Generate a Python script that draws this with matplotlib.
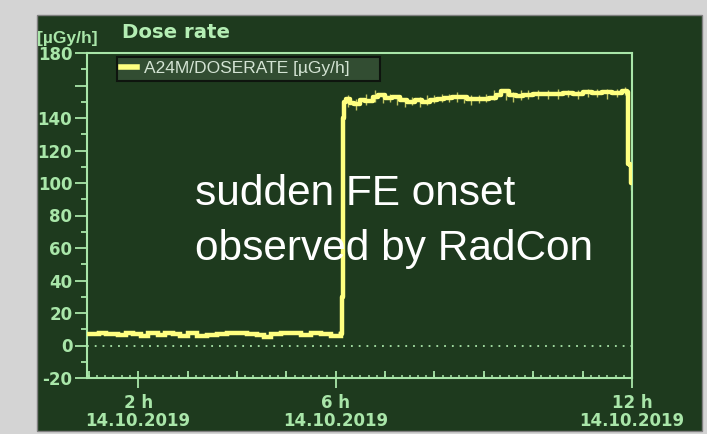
import matplotlib
matplotlib.use("Agg")
import matplotlib.pyplot as plt
from matplotlib.patches import Rectangle
from matplotlib.ticker import MultipleLocator, FixedLocator

# ---------------- data ----------------
base_t = [0.97, 1.2, 1.35, 1.6, 1.75, 1.9, 2.05, 2.2, 2.4, 2.55, 2.7, 2.85, 3.0, 3.2,
          3.4, 3.6, 3.8, 4.0, 4.2, 4.4, 4.55, 4.7, 4.9, 5.1, 5.3, 5.5, 5.7, 5.9, 6.1]
base_v = [7, 8, 7, 6.5, 8, 7, 6, 7.5, 6.5, 8, 7, 6, 7.5, 6,
          6.5, 7, 7.5, 8, 7, 6.5, 5, 7, 8, 7.5, 6.5, 8, 7, 6, 7]

high_t = [6.12, 6.14, 6.16, 6.2, 6.3, 6.38, 6.5, 6.6, 6.75, 6.85, 7.0, 7.15, 7.3, 7.45,
          7.6, 7.75, 7.9, 8.05, 8.2, 8.35, 8.5, 8.65, 8.8, 8.95, 9.1, 9.25, 9.35, 9.5,
          9.65, 9.8, 10.0, 10.2, 10.4, 10.6, 10.8, 11.0, 11.2, 11.4, 11.6, 11.8, 11.9,
          11.92, 11.96, 11.98, 12.0]
high_v = [30, 140, 150, 152, 149, 148.5, 151, 150.5, 153, 154, 152.5, 153, 151, 150,
          151, 150, 151, 152, 152.5, 153, 153, 152, 151.5, 152, 152.5, 154, 156.5, 154,
          153.5, 154, 155, 154.5, 155, 155.5, 155, 156, 155.5, 156, 155.5, 156.5, 156,
          112, 111, 100, 108]

# short noise spikes on the high plateau
spike_t = [6.25, 6.42, 6.62, 6.8, 6.95, 7.1, 7.25, 7.4, 7.55, 7.7, 7.85, 8.0, 8.15,
           8.3, 8.45, 8.6, 8.75, 8.9, 9.05, 9.2, 9.45, 9.6, 9.75, 9.9, 10.1, 10.3,
           10.5, 10.7, 10.9, 11.1, 11.3, 11.5, 11.7, 11.85, 11.97]
spike_lo = [147, 145, 148, 150, 149, 150, 148, 147, 148, 147, 148, 149, 150, 150,
            150, 149, 148, 149, 150, 151, 151, 150, 151, 152, 152, 152, 152, 153,
            152, 153, 153, 152, 153, 154, 96]
spike_hi = [154, 152, 155, 157, 155, 155, 153, 152, 153, 153, 154, 154, 155, 155,
            156, 154, 154, 154, 155, 157, 157, 156, 157, 157, 157, 157, 158, 157,
            157, 158, 158, 158, 158, 159, 106]

y_ticks = [-20, 0, 20, 40, 60, 80, 100, 120, 140, 160, 180]
y_labels = ['-20', '0', '20', '40', '60', '80', '100', '120', '140', '', '180']
x_ticks = [2, 6, 12]
x_labels = ['2 h\n14.10.2019', '6 h\n14.10.2019', '12 h\n14.10.2019']
hour_ticks = [1, 2, 3, 4, 5, 6, 7, 8, 9, 10, 11, 12]

series_name = 'A24M/DOSERATE [µGy/h]'
title = 'Dose rate'
unit = '[µGy/h]'
note1 = 'sudden FE onset'
note2 = 'observed by RadCon'

# ---------------- style ----------------
W, H = 707, 434
BG = '#d4d4d4'
PANEL = '#1e3a1e'
FG = '#a9e6a9'
YEL = '#ffff80'

plt.rcParams['font.family'] = ['Liberation Sans', 'DejaVu Sans']

fig = plt.figure(figsize=(W / 100, H / 100), dpi=100, facecolor=BG)
fig.add_artist(Rectangle((37 / W, (H - 431) / H), (702 - 37) / W, (431 - 15) / H,
                         transform=fig.transFigure, facecolor=PANEL,
                         edgecolor='#808080', lw=1, zorder=0))

ax = fig.add_axes([87 / W, (H - 378) / H, (632 - 87) / W, (378 - 53) / H])
ax.set_facecolor(PANEL)
ax.set_xlim(0.965, 12.0)
ax.set_ylim(-20, 180)

for s in ax.spines.values():
    s.set_color(FG)
    s.set_linewidth(1.5)

ax.axhline(0, color=FG, lw=1.3, ls=(0, (1, 3.3)), zorder=1)

ax.vlines(spike_t, spike_lo, spike_hi, color='#e8e870', lw=1, alpha=0.8, zorder=2)
line_b, = ax.plot(base_t, base_v, drawstyle='steps-post', color=YEL, lw=3.2,
                  solid_joinstyle='miter', zorder=3, label=series_name)
ax.plot([base_t[-1]] + high_t, [base_v[-1]] + high_v, drawstyle='steps-post',
        color=YEL, lw=3.2, zorder=3)

tick_font = dict(family='DejaVu Sans', weight='bold', size=12)

# y axis
ax.yaxis.set_major_locator(FixedLocator(y_ticks))
ax.set_yticklabels(y_labels, fontdict=tick_font)
ax.yaxis.set_minor_locator(MultipleLocator(10))
ax.tick_params(axis='y', which='major', direction='out', length=8.6, width=1.3,
               color=FG, labelcolor=FG, pad=2)
ax.tick_params(axis='y', which='minor', direction='out', length=4.3, width=1.3, color=FG)

# x axis
ax.xaxis.set_major_locator(FixedLocator(x_ticks))
ax.set_xticklabels(x_labels, fontdict=tick_font, linespacing=1.0)
ax.xaxis.set_minor_locator(MultipleLocator(1 / 6))
ax.tick_params(axis='x', which='major', direction='out', length=7.5, width=1.3,
               color=FG, labelcolor=FG, pad=4)
ax.tick_params(axis='x', which='minor', direction='in', length=2.5, width=1.1, color=FG)

sec = ax.secondary_xaxis('bottom')
sec.xaxis.set_major_locator(FixedLocator(hour_ticks))
sec.tick_params(axis='x', direction='in', length=5, width=1.3, color=FG,
                labelbottom=False)
sec.spines['bottom'].set_visible(False)

leg = ax.legend(handles=[line_b], loc='upper left',
                bbox_to_anchor=(30 / 545, 1 - 4 / 325, 263 / 545, 0), mode='expand',
                fontsize=12.5, frameon=True, fancybox=False, framealpha=1,
                facecolor='#324d32', edgecolor='#0e140e', handlelength=0.9,
                handletextpad=0.4, borderpad=0.25, borderaxespad=0)
leg.get_frame().set_linewidth(1.5)
for t in leg.get_texts():
    t.set_color('#d4e4d4')
leg.get_lines()[0].set_linewidth(4)

ax.text(0.198, 0.532, note1, transform=ax.transAxes, color='white', fontsize=30.5,
        va='baseline', ha='left', zorder=5)
ax.text(0.198, 0.363, note2, transform=ax.transAxes, color='white', fontsize=30.5,
        va='baseline', ha='left', zorder=5)

fig.text(122 / W, (H - 38) / H, title, color='#b4eeb4', fontsize=14.2,
         family='DejaVu Sans', fontweight='bold', va='baseline', ha='left')
fig.text(37 / W, (H - 43) / H, unit, color=FG, fontsize=12.5,
         fontweight='bold', va='baseline', ha='left')

fig.savefig('out.png', dpi=100, facecolor=BG)
